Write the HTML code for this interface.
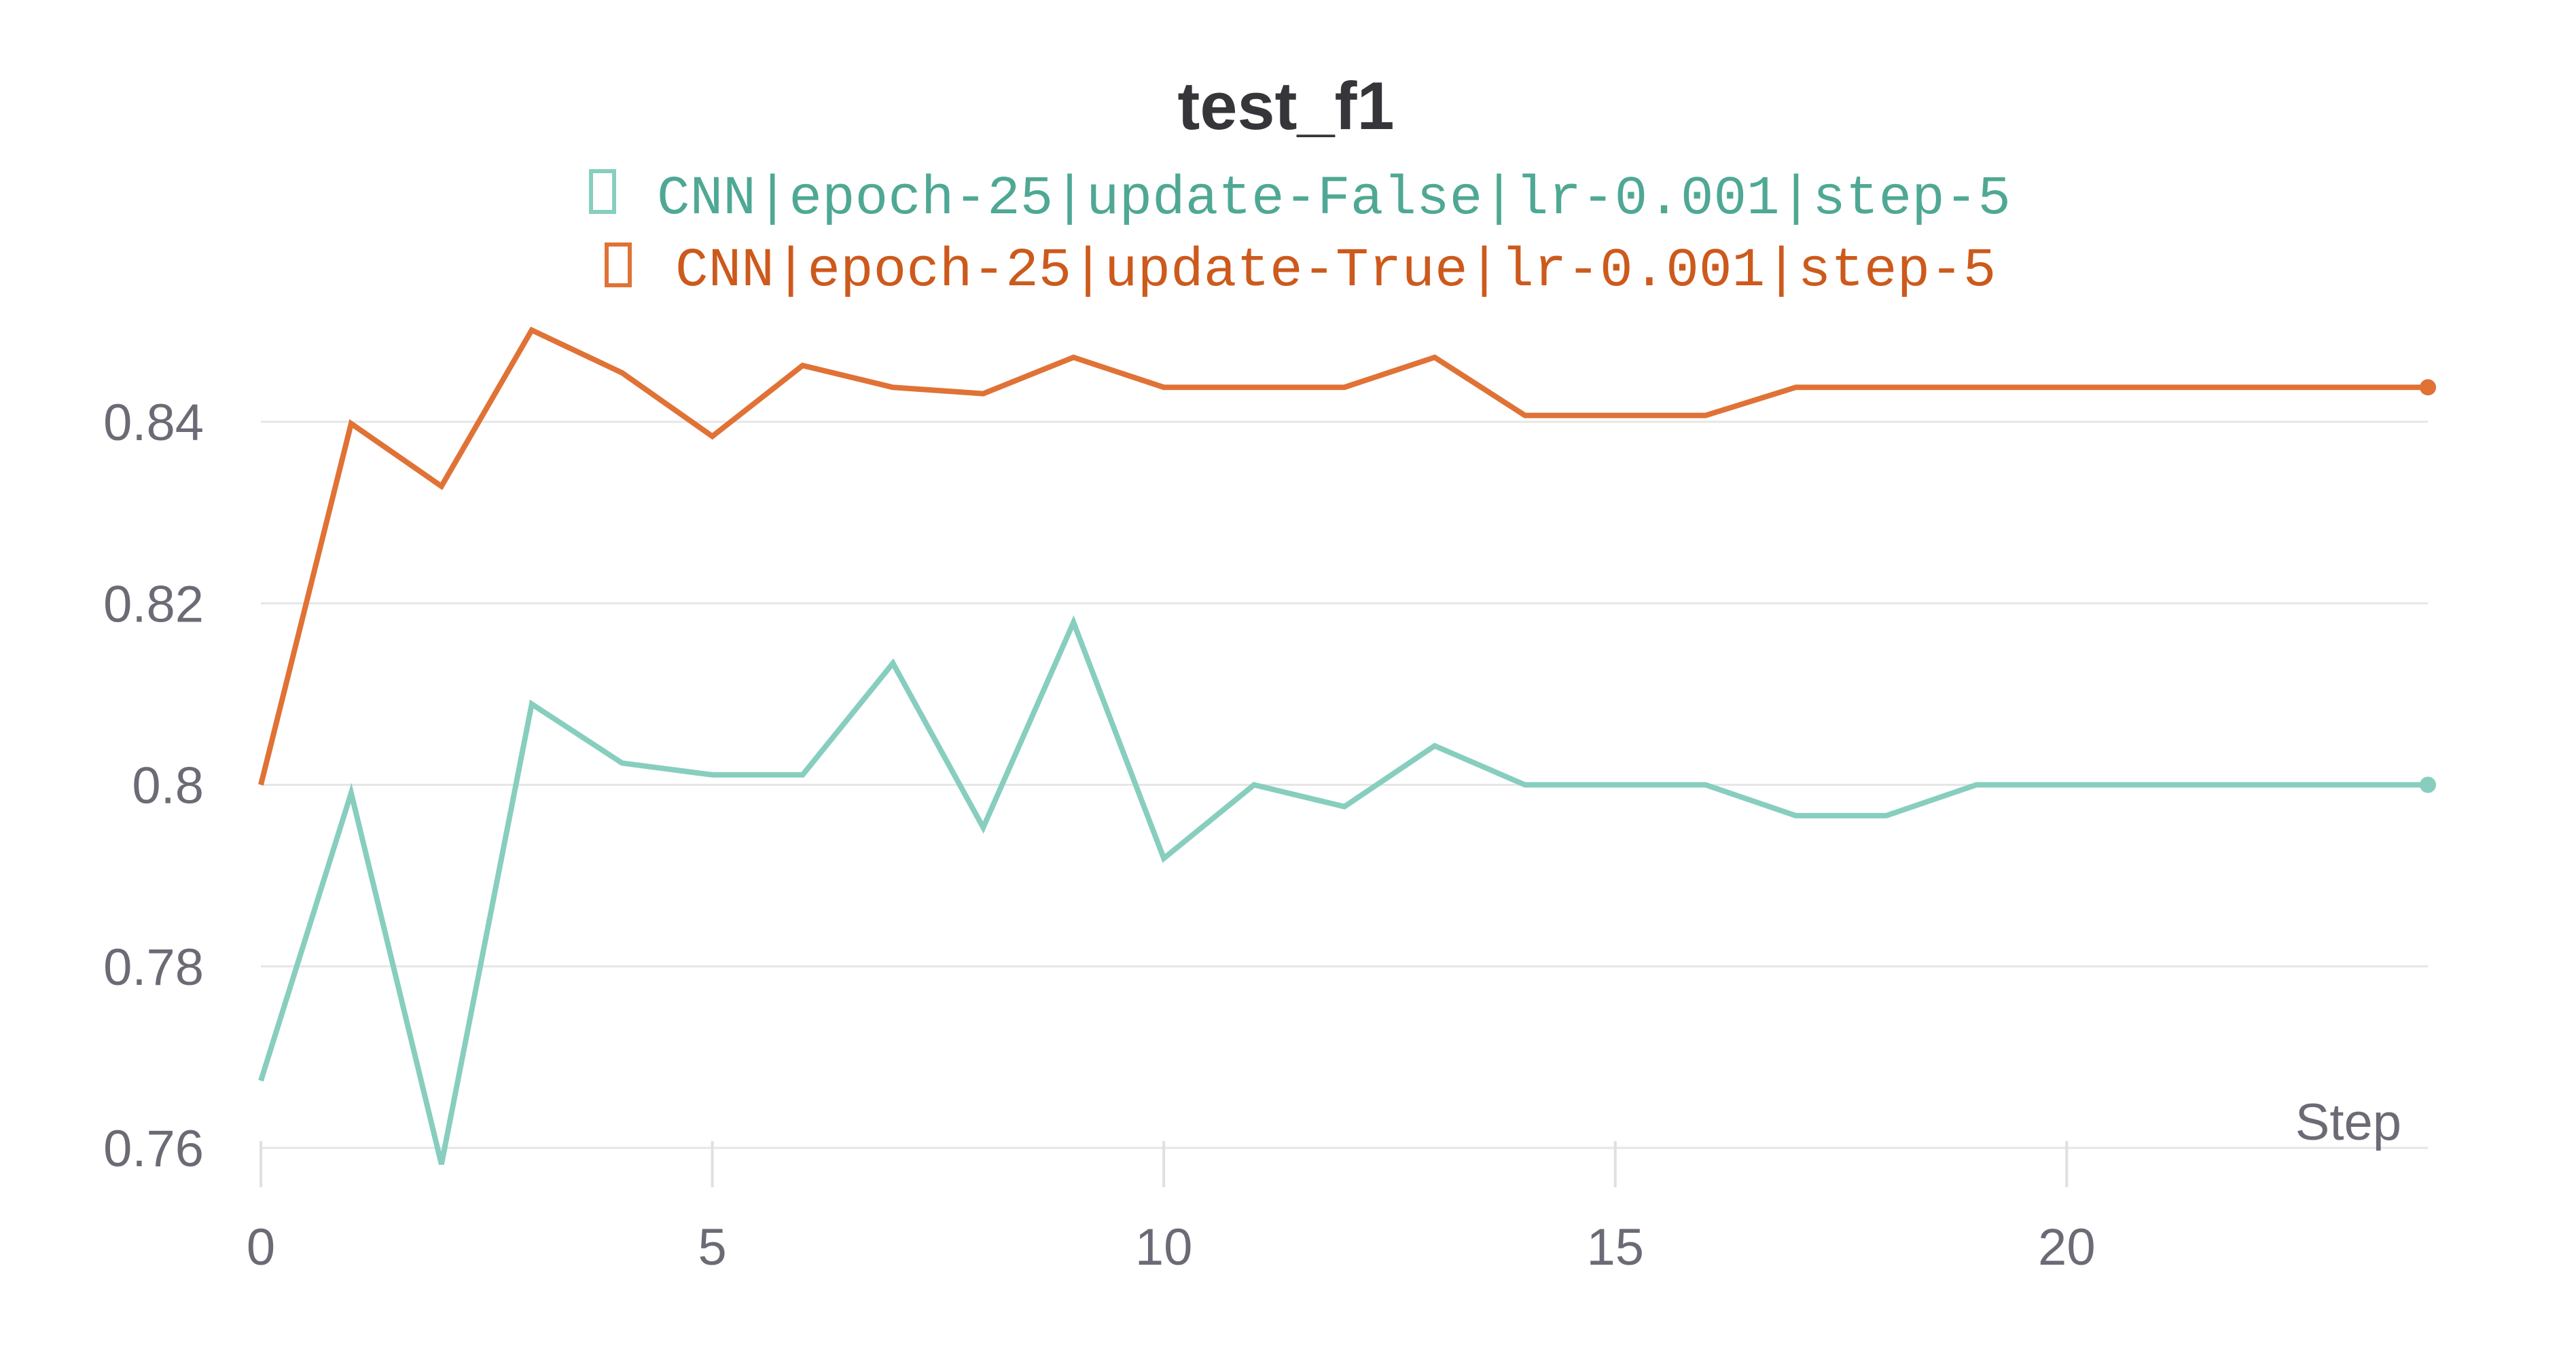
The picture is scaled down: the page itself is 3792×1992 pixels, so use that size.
<!DOCTYPE html>
<html><head><meta charset="utf-8"><style>
html,body{margin:0;padding:0;background:#fff;}
svg{display:block;}
</style></head><body>
<svg id="chart" width="3792" height="1992" viewBox="0 0 3792 1992" xmlns="http://www.w3.org/2000/svg" font-family="Liberation Sans, sans-serif">
<text x="1893" y="190" text-anchor="middle" font-size="99" font-weight="bold" fill="#35353a">test_f1</text>
<g>
<rect x="870" y="252" width="34" height="60" fill="none" stroke="#87cebf" stroke-width="6"/>
<text x="967" y="314" font-family="Liberation Mono, monospace" font-size="81" fill="#4fa894">CNN|epoch-25|update-False|lr-0.001|step-5</text>
</g>
<g>
<rect x="893" y="360" width="34" height="60" fill="none" stroke="#e07236" stroke-width="6"/>
<text x="994" y="420" font-family="Liberation Mono, monospace" font-size="81" fill="#cc5a1c">CNN|epoch-25|update-True|lr-0.001|step-5</text>
</g>
<g id="grid"></g>
<g id="axes"></g>
<g id="series"></g>
<text x="3535" y="1678" text-anchor="end" font-size="76" fill="#6b6b76">Step</text>
</svg>
<script>
const steps = [0,1,2,3,4,5,6,7,8,9,10,11,12,13,14,15,16,17,18,19,20,21,22,23,24];
const falseValues = [0.7674,0.7991,0.7582,0.8089,0.8024,0.8011,0.8011,0.8134,0.7953,0.8179,0.7919,0.8000,0.7976,0.8043,0.8000,0.8000,0.8000,0.7966,0.7966,0.8000,0.8000,0.8000,0.8000,0.8000,0.8000];
const trueValues = [0.8000,0.8398,0.8329,0.8501,0.8454,0.8384,0.8462,0.8438,0.8431,0.8471,0.8438,0.8438,0.8438,0.8471,0.8407,0.8407,0.8407,0.8438,0.8438,0.8438,0.8438,0.8438,0.8438,0.8438,0.8438];
const yTicks = [0.76,0.78,0.80,0.82,0.84];
const yTickLabels = ["0.76","0.78","0.8","0.82","0.84"];
const xTicks = [0,5,10,15,20];
const xTickLabels = ["0","5","10","15","20"];

const NS = "http://www.w3.org/2000/svg";
const X0 = 384, X1 = 3574;
const xs = s => X0 + (s - 0) / 24 * (X1 - X0);
const ys = v => 1690 - (v - 0.76) / 0.08 * (1690 - 621);
function mk(tag, attrs, parent){const e=document.createElementNS(NS,tag);for(const k in attrs)e.setAttribute(k,attrs[k]);parent.appendChild(e);return e;}
const grid=document.getElementById('grid'), axes=document.getElementById('axes'), series=document.getElementById('series');
yTicks.forEach((t,i)=>{
  const l=mk('line',{x1:X0,x2:X1,y1:ys(t),y2:ys(t),stroke:'#e6e6e6','stroke-width':3},grid);
  
  
  const tx=mk('text',{x:300,y:ys(t)+27,'text-anchor':'end','font-size':76,fill:'#6b6b76'},axes);
  tx.textContent=yTickLabels[i];
  
  
});
xTicks.forEach((t,i)=>{
  const l=mk('line',{x1:xs(t),x2:xs(t),y1:1680,y2:1748,stroke:'#e0e0e0','stroke-width':4},axes);
  
  
  const tx=mk('text',{x:xs(t),y:1862,'text-anchor':'middle','font-size':76,fill:'#6b6b76'},axes);
  tx.textContent=xTickLabels[i];
  
  
});
function drawSeries(vals,color,name){
  const pts=steps.map((s,i)=>xs(s)+','+ys(vals[i])).join(' ');
  const p=mk('polyline',{points:pts,fill:'none',stroke:color,'stroke-width':8,'stroke-linejoin':'miter'},series);
  
  
  const n=steps.length-1;
  const c=mk('circle',{cx:xs(steps[n]),cy:ys(vals[n]),r:12,fill:color},series);
  
  
}
drawSeries(falseValues,'#87cebf','update-false');
drawSeries(trueValues,'#e07236','update-true');
</script>
</body></html>
